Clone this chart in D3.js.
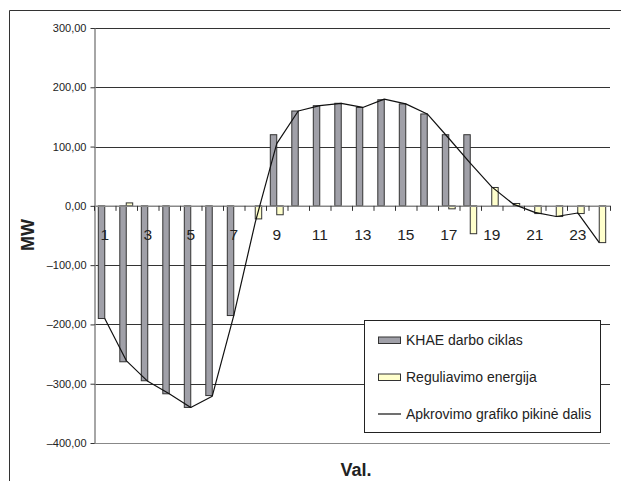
<!DOCTYPE html>
<html>
<head>
<meta charset="utf-8">
<script src="https://cdn.jsdelivr.net/npm/d3@7/dist/d3.min.js"></script>
<style>
  html, body { margin: 0; padding: 0; background: #fff; }
  svg { display: block; }
  text { font-family: "Liberation Sans", Arial, Helvetica, sans-serif; }
</style>
</head>
<body>
<svg id="chart" width="621" height="481"></svg>
<script>
// Hours of the day
const hours = d3.range(1, 25);
// KHAE darbo ciklas, MW
const cycleValues = [-190, -263, -295, -317, -340, -320, -185, 0, 120, 160, 169, 173,
                     166, 179, 172, 155, 120, 120, 0, 0, 0, 0, 0, 0];
// Reguliavimo energija, MW
const regulationValues = [0, 5, 0, 0, 0, 0, 0, -22, -15, 0, 0, 0,
                          0, 0, 0, 0, -5, -47, 31, 4, -13, -18, -13, -62];
// Apkrovimo grafiko pikinė dalis, MW
const peakValues = [-190, -261, -296, -317, -340, -321, -185, -28, 105, 160, 169, 173,
                    166, 180, 172, 155, 114, 72, 32, 3, -11, -18, -12, -62];
// Value axis ticks
const yTicks = [300, 200, 100, 0, -100, -200, -300, -400];
// Hours that carry a label on the category axis
const labelledHours = [1, 3, 5, 7, 9, 11, 13, 15, 17, 19, 21, 23];

const legendItems = [
  { label: "KHAE darbo ciklas", type: "bar", fill: "#a0a0a8" },
  { label: "Reguliavimo energija", type: "bar", fill: "#ffffcc" },
  { label: "Apkrovimo grafiko pikinė dalis", type: "line" }
];

const svg = d3.select("#chart");
const plot = { left: 94, right: 610, top: 28, bottom: 443 };

const x = d3.scaleBand()
  .domain(hours)
  .range([plot.left, plot.right])
  .paddingInner(0.4)
  .paddingOuter(0.2);
const series = d3.scaleBand()
  .domain(["cycle", "regulation"])
  .range([0, x.bandwidth()]);
const boundary = d3.scaleLinear().domain([0, hours.length]).range([plot.left, plot.right]);
const y = d3.scaleLinear().domain([-400, 300]).range([plot.bottom, plot.top]);

const ltLocale = d3.formatLocale({ decimal: ",", thousands: ".", grouping: [3], currency: ["", ""], minus: "\u2013" });
const fmt = ltLocale.format(".2f");

// Outer frame (runs off the right and bottom edges)
svg.append("path")
  .attr("d", "M9.5,481 V10.5 H621")
  .attr("fill", "none")
  .attr("stroke", "#333")
  .attr("stroke-width", 1);

// Horizontal gridlines
svg.append("g")
  .selectAll("line")
  .data(yTicks.filter(v => v !== 0))
  .join("line")
  .attr("x1", plot.left)
  .attr("x2", plot.right)
  .attr("y1", d => Math.round(y(d)) + 0.5)
  .attr("y2", d => Math.round(y(d)) + 0.5)
  .attr("stroke", d => d === -400 ? "#888" : "#333")
  .attr("stroke-width", 1);

// Value axis
const yAxis = svg.append("g")
  .attr("transform", `translate(${plot.left + 0.5},0)`)
  .call(d3.axisLeft(y).tickValues(yTicks).tickFormat(fmt).tickSizeInner(4).tickSizeOuter(0).tickPadding(4));
yAxis.select(".domain").attr("stroke", "#888").attr("stroke-width", 1.5);
yAxis.selectAll(".tick line").attr("stroke", "#333");
yAxis.selectAll(".tick text")
  .attr("font-size", 11)
  .attr("fill", "#222")
  .style("font-family", "'Liberation Sans', Arial, sans-serif");

// Bars: KHAE darbo ciklas
svg.append("g")
  .selectAll("rect")
  .data(hours.map((h, i) => ({ h, v: cycleValues[i] })).filter(d => d.v !== 0))
  .join("rect")
  .attr("x", d => x(d.h) + series("cycle"))
  .attr("width", series.bandwidth())
  .attr("y", d => y(Math.max(0, d.v)))
  .attr("height", d => Math.abs(y(d.v) - y(0)))
  .attr("fill", legendItems[0].fill)
  .attr("stroke", "#333")
  .attr("stroke-width", 1);

// Bars: Reguliavimo energija
svg.append("g")
  .selectAll("rect")
  .data(hours.map((h, i) => ({ h, v: regulationValues[i] })).filter(d => d.v !== 0))
  .join("rect")
  .attr("x", d => x(d.h) + series("regulation"))
  .attr("width", series.bandwidth())
  .attr("y", d => y(Math.max(0, d.v)))
  .attr("height", d => Math.abs(y(d.v) - y(0)))
  .attr("fill", legendItems[1].fill)
  .attr("stroke", "#333")
  .attr("stroke-width", 1);

// Category axis on the zero line, ticks at hour boundaries
const xAxis = svg.append("g")
  .attr("transform", `translate(0,${y(0)})`)
  .call(d3.axisBottom(boundary).tickValues(d3.range(0, hours.length + 1)).tickFormat("").tickSizeInner(5).tickSizeOuter(0));
xAxis.select(".domain").attr("stroke", "#888").attr("stroke-width", 1.5);
xAxis.selectAll(".tick line").attr("stroke", "#333");

// Load curve peak part
const line = d3.line()
  .x((d, i) => x(hours[i]) + x.bandwidth() / 2)
  .y(d => y(d));
svg.append("path")
  .datum(peakValues)
  .attr("d", line)
  .attr("fill", "none")
  .attr("stroke", "#111")
  .attr("stroke-width", 1.2)
  .attr("stroke-linejoin", "round");

// Hour labels
svg.append("g")
  .selectAll("text")
  .data(labelledHours)
  .join("text")
  .attr("x", d => x(d) + x.bandwidth() / 2)
  .attr("y", y(0) + 34)
  .attr("text-anchor", "middle")
  .attr("font-size", 15.5)
  .attr("fill", "#222")
  .text(d => d);

// Axis titles
svg.append("text")
  .attr("transform", "translate(34,235) rotate(-90)")
  .attr("text-anchor", "middle")
  .attr("font-size", 18)
  .attr("font-weight", "bold")
  .attr("fill", "#222")
  .text("MW");
svg.append("text")
  .attr("x", 356)
  .attr("y", 476)
  .attr("text-anchor", "middle")
  .attr("font-size", 18)
  .attr("font-weight", "bold")
  .attr("fill", "#222")
  .text("Val.");

// Legend
const legend = svg.append("g");
legend.append("rect")
  .attr("x", 364.5).attr("y", 320.5)
  .attr("width", 236).attr("height", 112)
  .attr("fill", "#fff")
  .attr("stroke", "#222")
  .attr("stroke-width", 1);
const rowY = [340, 377, 414];
const items = legend.selectAll("g.item")
  .data(legendItems)
  .join("g")
  .attr("class", "item")
  .attr("transform", (d, i) => `translate(378,${rowY[i]})`);
items.filter(d => d.type === "bar")
  .append("rect")
  .attr("x", 0.5).attr("y", -3)
  .attr("width", 22).attr("height", 6.5)
  .attr("fill", d => d.fill)
  .attr("stroke", "#333")
  .attr("stroke-width", 1);
items.filter(d => d.type === "line")
  .append("line")
  .attr("x1", 0).attr("x2", 23)
  .attr("y1", 0).attr("y2", 0)
  .attr("stroke", "#111")
  .attr("stroke-width", 1.2);
items.append("text")
  .attr("x", 28)
  .attr("y", 5)
  .attr("font-size", 14)
  .attr("fill", "#222")
  .text(d => d.label);
</script>
</body>
</html>
